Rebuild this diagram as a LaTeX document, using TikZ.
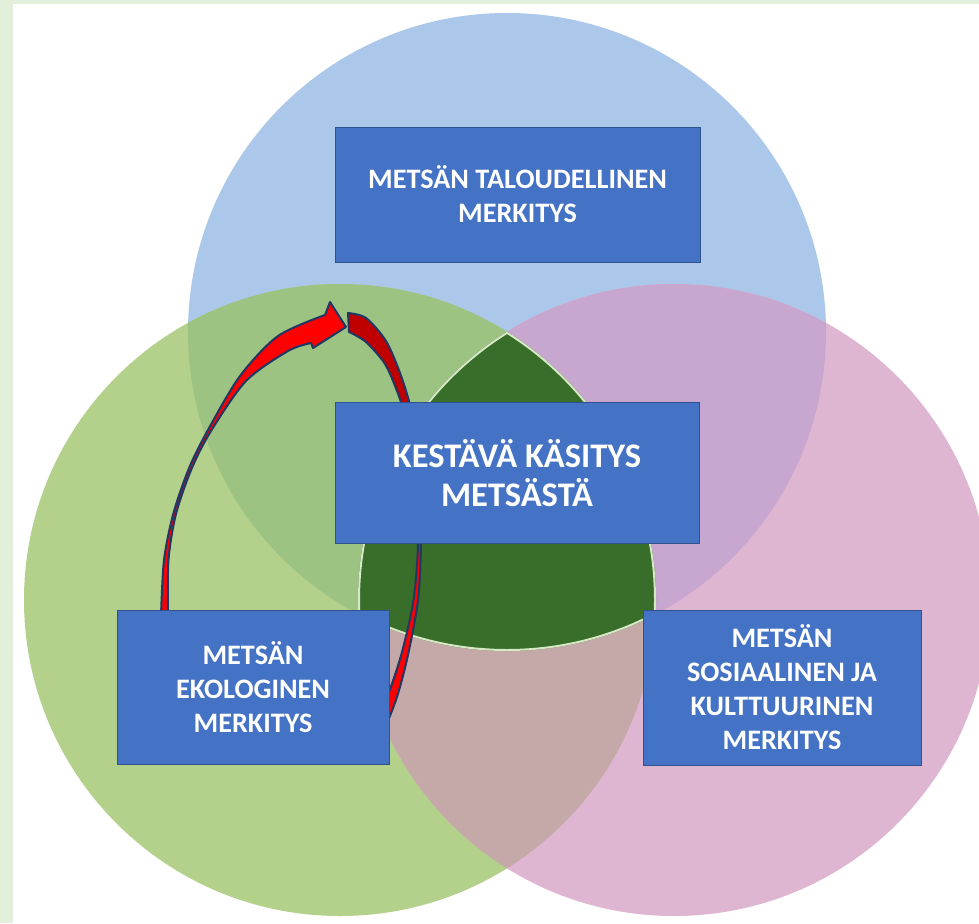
\documentclass[tikz,border=0pt]{standalone}
\usepackage{fontspec}
\setmainfont{Carlito}
\definecolor{frameC}{HTML}{E2EFDA}
\definecolor{blueC}{HTML}{ABC7EA}
\definecolor{greenC}{HTML}{B3D18B}
\definecolor{pinkC}{HTML}{DFB6D1}
\definecolor{bgC}{HTML}{9DC383}
\definecolor{bpC}{HTML}{C7A6CF}
\definecolor{gpC}{HTML}{C5A8A8}
\definecolor{coreC}{HTML}{386E29}
\definecolor{coreEdge}{HTML}{D6E8C6}
\definecolor{boxC}{HTML}{4472C4}
\definecolor{boxEdge}{HTML}{2F528F}
\definecolor{arrowC}{HTML}{FF0000}
\definecolor{arrowDark}{HTML}{C00000}
\definecolor{arrowEdge}{HTML}{1F3864}
\tikzset{
  infobox/.style={fill=boxC, draw=boxEdge, line width=0.7pt, text=white, align=center,
    font=\bfseries\fontsize{28.2}{34}\selectfont, inner sep=0pt},
  arrowpart/.style={draw=arrowEdge, line width=2pt, line join=round},
}
\begin{document}
\begin{tikzpicture}[x=1pt,y=-1pt]
\useasboundingbox (0,0) rectangle (979,923);
\fill[frameC] (0,0) rectangle (979,923);
\fill[white] (13,4) rectangle (979,923);
\begin{scope}
\clip (13,4) rectangle (979,923);
% circles
\coordinate (cb) at (507,332);
\coordinate (cg) at (340,600);
\coordinate (cp) at (674,600);
\fill[blueC] (cb) circle (319pt);
\fill[greenC] (cg) circle (316pt);
\fill[pinkC] (cp) circle (316pt);
\begin{scope}\clip (cb) circle (319pt); \fill[bgC] (cg) circle (316pt);\end{scope}
\begin{scope}\clip (cb) circle (319pt); \fill[bpC] (cp) circle (316pt);\end{scope}
\begin{scope}\clip (cg) circle (316pt); \fill[gpC] (cp) circle (316pt);\end{scope}
\begin{scope}
  \clip (cb) circle (319pt); \clip (cg) circle (316pt); \clip (cp) circle (316pt);
  \fill[coreC] (cp) circle (316pt);
  \draw[coreEdge, line width=4pt] (cb) circle (319pt) (cg) circle (316pt) (cp) circle (316pt);
\end{scope}
\end{scope}
% arrow: bright red part with head
\coordinate (hb1) at (330,302);
\coordinate (tip) at (346,327);
\coordinate (hb2) at (313,348);
\fill[arrowC, arrowpart]
  plot[smooth] coordinates {(161,616) (164,560) (173.5,513) (189.5,467) (208.5,429) (240,376) (278,336) (325,315)}
  -- (hb1) -- (tip) -- (hb2) -- (311,343)
  -- plot[smooth] coordinates {(311,343) (288,351) (246,381) (211,431) (191.5,469) (176,514) (168.5,560) (168,616)}
  -- cycle;
% arrow: dark back part
\fill[arrowDark, arrowpart]
  plot[smooth] coordinates {(348,313) (366,318) (386,341) (400,373) (410,405) (416,440) (418,480)}
  -- plot[smooth] coordinates {(414,480) (411,440) (405,415) (397,391) (385,364) (366,342) (349,332)}
  -- cycle;
% arrow: lower part
\fill[arrowC, arrowpart]
  plot[smooth] coordinates {(420,470) (421,543) (418,600) (408,655) (397,697) (385,728)}
  -- plot[smooth] coordinates {(376,722) (389,692) (402,652) (413.5,600) (418,543) (416.5,470)}
  -- cycle;
% boxes
\node[infobox, minimum width=365pt, minimum height=135pt] (eco) at (517.5,194.5)
  {METSÄN TALOUDELLINEN\\MERKITYS};
\node[infobox, minimum width=364pt, minimum height=141pt,
  font=\bfseries\fontsize{34.5}{39}\selectfont] (core) at (517,473)
  {KESTÄVÄ KÄSITYS\\METSÄSTÄ};
\node[infobox, minimum width=272pt, minimum height=154pt] (ecol) at (253,687)
  {METSÄN\\EKOLOGINEN\\MERKITYS};
\node[infobox, minimum width=278pt, minimum height=155pt] (soc) at (782,687.5)
  {METSÄN\\SOSIAALINEN JA\\KULTTUURINEN\\MERKITYS};
\end{tikzpicture}
\end{document}
